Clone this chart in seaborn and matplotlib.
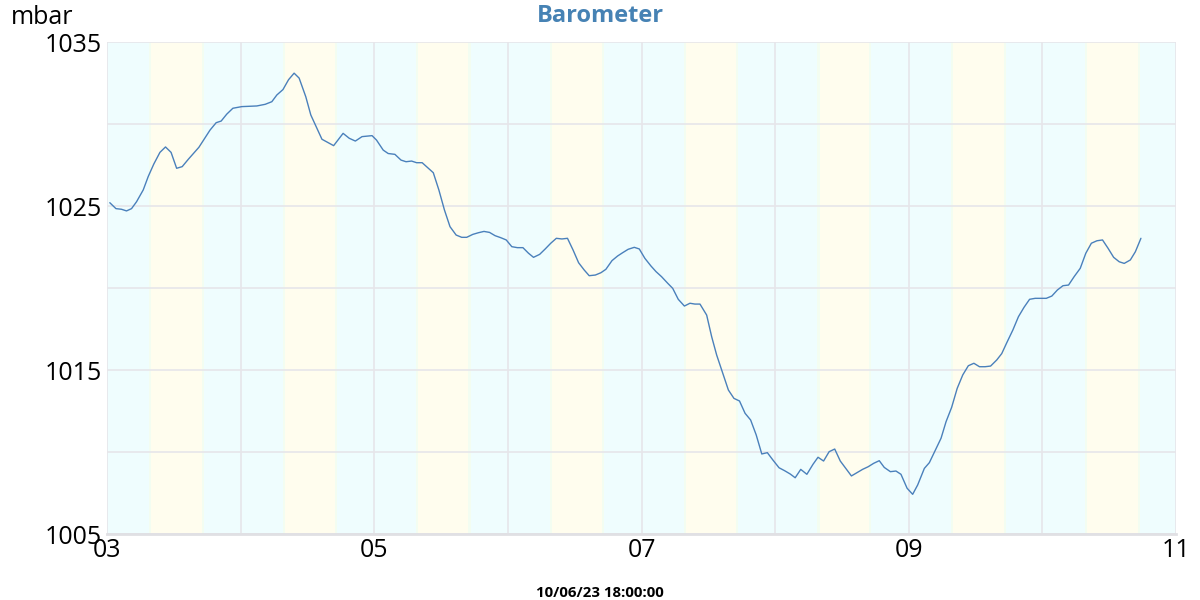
import numpy as np
import pandas as pd
import matplotlib
matplotlib.use("Agg")
import matplotlib.pyplot as plt
import matplotlib.dates as mdates
import seaborn as sns

# hours since 2023-06-03 00:00 and pressure readings (mbar)
hours = [0.5, 1.6, 2.6, 3.5, 4.4, 5.3, 6.5, 7.4, 8.4, 9.5, 10.5, 11.5, 12.5, 13.5, 14.6,
         16.5, 18.5, 19.6, 20.5, 21.5, 22.6, 24.2, 26.9, 28.4, 29.6, 30.5, 31.6, 32.6,
         33.6, 34.5, 35.7, 36.6, 38.6, 40.7, 42.4, 43.5, 44.6, 45.8, 47.6, 48.4, 49.6,
         50.5, 51.7, 52.8, 53.7, 54.7, 55.6, 56.6, 57.7, 58.6, 59.6, 60.6, 61.6, 62.7,
         63.7, 64.6, 65.7, 66.7, 67.7, 68.7, 69.7, 70.7, 71.7, 72.7, 73.7, 74.7, 75.7,
         76.6, 77.7, 78.7, 79.7, 80.7, 81.7, 82.7, 83.7, 84.7, 85.7, 86.6, 87.7, 88.7,
         89.6, 90.7, 91.7, 92.6, 93.6, 94.7, 95.6, 96.6, 97.7, 98.6, 99.6, 100.7, 101.6,
         102.6, 103.7, 104.7, 105.6, 106.5, 107.7, 108.6, 109.5, 110.6, 111.6, 112.6,
         113.6, 114.6, 115.6, 116.6, 117.6, 118.6, 119.6, 120.7, 121.7, 122.7, 123.6,
         124.6, 125.7, 126.8, 127.7, 128.7, 129.7, 130.7, 131.7, 132.7, 133.7, 134.7,
         135.7, 136.7, 137.7, 138.7, 139.6, 140.7, 141.7, 142.6, 143.7, 144.7, 145.6,
         146.8, 147.7, 148.7, 149.8, 150.7, 151.7, 152.7, 153.7, 154.7, 155.7, 156.7,
         157.7, 158.7, 159.8, 160.7, 161.6, 162.7, 163.7, 164.7, 165.7, 166.7, 167.7,
         168.7, 169.7, 170.7, 171.7, 172.7, 173.7, 174.8, 175.8, 176.8, 177.8, 178.8,
         179.8, 180.8, 181.8, 182.7, 183.8, 184.7, 185.7]
pressure = [1025.2, 1024.84, 1024.8, 1024.7, 1024.84, 1025.26, 1025.98, 1026.8, 1027.56,
            1028.27, 1028.6, 1028.27, 1027.3, 1027.4, 1027.85, 1028.58, 1029.63, 1030.08,
            1030.18, 1030.6, 1030.96, 1031.06, 1031.1, 1031.2, 1031.36, 1031.77, 1032.1,
            1032.7, 1033.1, 1032.8, 1031.66, 1030.55, 1029.07, 1028.68, 1029.43, 1029.13,
            1028.96, 1029.23, 1029.29, 1029.02, 1028.41, 1028.2, 1028.15, 1027.8, 1027.7,
            1027.74, 1027.64, 1027.64, 1027.3, 1027.03, 1025.98, 1024.76, 1023.74, 1023.23,
            1023.09, 1023.09, 1023.27, 1023.37, 1023.45, 1023.39, 1023.19, 1023.07, 1022.93,
            1022.52, 1022.46, 1022.46, 1022.12, 1021.87, 1022.05, 1022.38, 1022.73, 1023.03,
            1022.99, 1023.03, 1022.32, 1021.54, 1021.1, 1020.75, 1020.79, 1020.93, 1021.14,
            1021.67, 1021.95, 1022.15, 1022.36, 1022.48, 1022.38, 1021.81, 1021.34, 1021.0,
            1020.69, 1020.29, 1019.98, 1019.31, 1018.9, 1019.07, 1019.02, 1019.02, 1018.35,
            1017.03, 1015.91, 1014.8, 1013.78, 1013.27, 1013.11, 1012.36, 1011.95, 1011.04,
            1009.88, 1009.96, 1009.51, 1009.04, 1008.86, 1008.66, 1008.43, 1008.94, 1008.64,
            1009.25, 1009.68, 1009.45, 1010.02, 1010.18, 1009.45, 1009.0, 1008.54, 1008.74,
            1008.94, 1009.1, 1009.31, 1009.47, 1009.06, 1008.8, 1008.84, 1008.64, 1007.79,
            1007.42, 1007.99, 1009.0, 1009.35, 1010.06, 1010.84, 1011.85, 1012.72, 1013.88,
            1014.7, 1015.26, 1015.41, 1015.2, 1015.2, 1015.24, 1015.61, 1016.0, 1016.66,
            1017.44, 1018.25, 1018.82, 1019.31, 1019.37, 1019.37, 1019.37, 1019.51, 1019.88,
            1020.14, 1020.18, 1020.69, 1021.2, 1022.12, 1022.73, 1022.88, 1022.93, 1022.42,
            1021.87, 1021.6, 1021.5, 1021.71, 1022.21, 1023.03]

# sunrise / sunset (hour of day) for each day shown
days = pd.date_range("2023-06-03", "2023-06-10", freq="D")
sunrise = [7.7, 7.8, 7.7, 7.7, 7.8, 7.8, 7.7, 7.8]
sunset = [17.3, 17.1, 17.1, 17.1, 17.2, 17.1, 17.3, 17.3]

start = pd.Timestamp("2023-06-03")
end = pd.Timestamp("2023-06-11")
df = pd.DataFrame({"time": start + pd.to_timedelta(hours, unit="h"),
                   "mbar": pressure})

sns.set_style("white")
plt.rcParams["font.family"] = ["Open Sans", "DejaVu Sans"]

fig = plt.figure(figsize=(12, 6), dpi=100)
ax = fig.add_axes([0.0892, 0.11, 0.8908, 0.82])

#night / day shading
night = "#effdfe"
day = "#fffdee"
edge = "#f3fdf1"
ax.axvspan(start, end, color=night, lw=0, zorder=0)
for d, sr, ss in zip(days, sunrise, sunset):
    t0 = d + pd.Timedelta(hours=sr)
    t1 = d + pd.Timedelta(hours=ss)
    ax.axvspan(t0, t1, color=day, lw=0, zorder=0)
    for t in (t0, t1):
        ax.axvspan(t - pd.Timedelta(minutes=12), t + pd.Timedelta(minutes=12),
                   color=edge, lw=0, zorder=0)

sns.lineplot(data=df, x="time", y="mbar", ax=ax, color="#4a80bb", linewidth=1.0, zorder=3)

ax.set_xlim(start, end)
ax.set_ylim(1005, 1035)
ax.xaxis.set_major_locator(mdates.DayLocator(interval=2))
ax.xaxis.set_major_formatter(mdates.DateFormatter("%d"))
ax.xaxis.set_minor_locator(mdates.DayLocator())
ax.set_yticks([1005, 1015, 1025, 1035])
ax.set_yticks([1010, 1020, 1030], minor=True)
ax.grid(True, which="both", color="#e6e6ea", linewidth=1.2, zorder=1)
ax.set_axisbelow(True)
ax.tick_params(axis="both", which="both", length=0, labelsize=18, colors="black")
ax.tick_params(axis="x", pad=3)
ax.tick_params(axis="y", pad=3.5)
ax.set_xlabel("")
ax.set_ylabel("")
for s in ["top", "right", "left"]:
    ax.spines[s].set_visible(False)
ax.spines["bottom"].set_color("#e0e0e4")
ax.spines["bottom"].set_linewidth(2)

fig.text(0.5, 0.973, "Barometer", ha="center", va="center", fontsize=17,
         fontweight="bold", color="#4682b4")
fig.text(0.009, 0.971, "mbar", ha="left", va="center", fontsize=18, color="black")
fig.text(0.5, 0.012, "10/06/23 18:00:00", ha="center", va="center", fontsize=10.8,
         fontweight="bold", color="black")

fig.savefig("out.png", dpi=100)
